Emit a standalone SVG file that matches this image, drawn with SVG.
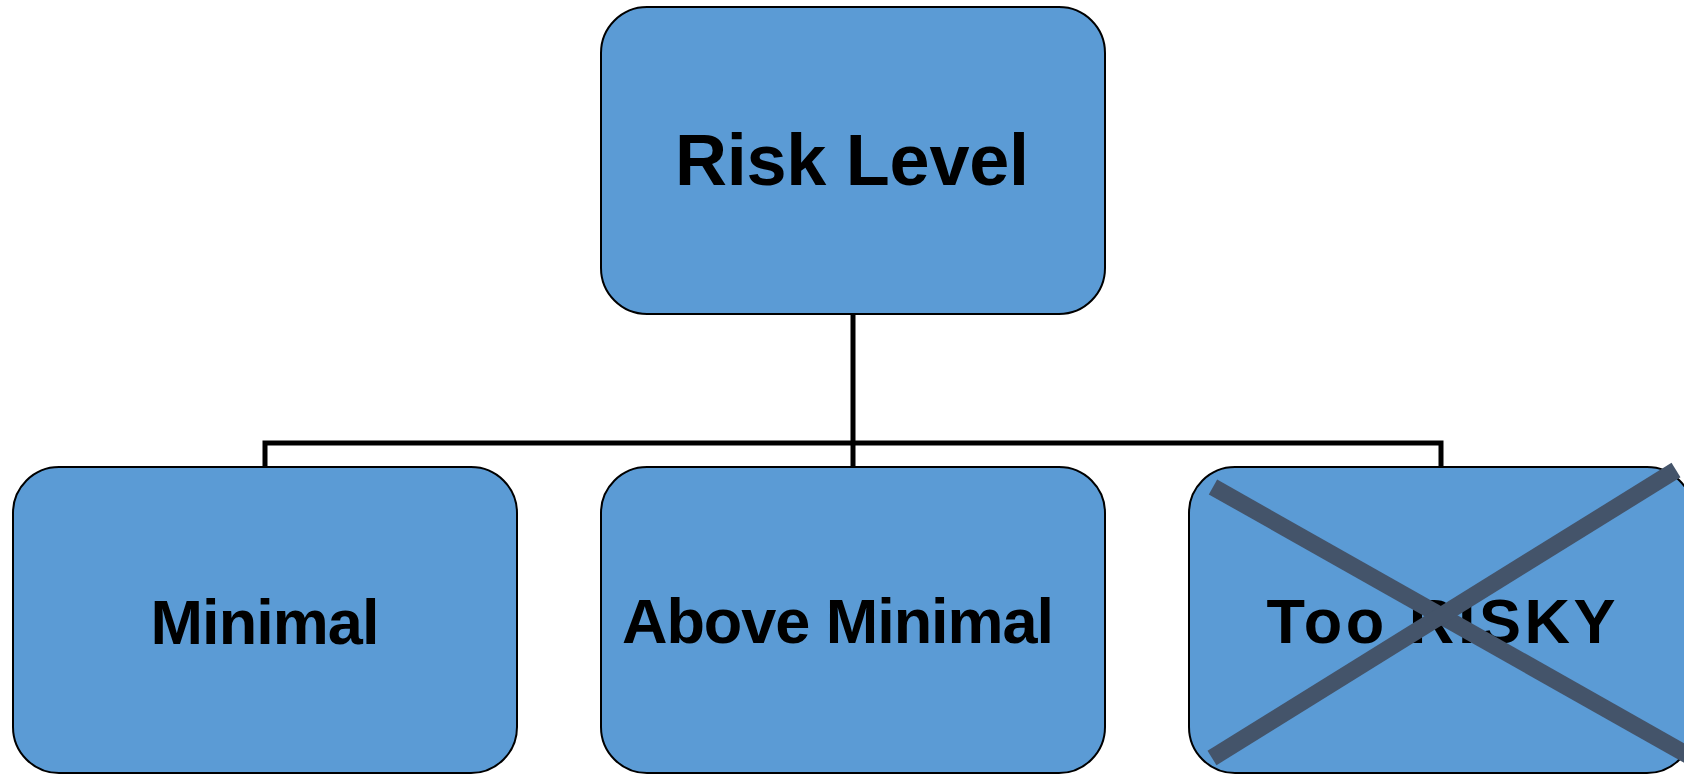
<svg xmlns="http://www.w3.org/2000/svg" width="1684" height="774" viewBox="0 0 1684 774">
  <style>
    .box { fill: #5B9BD5; stroke: #000000; stroke-width: 2; }
    .lbl { font-family: "Liberation Sans", Arial, sans-serif; font-weight: bold; fill: #000000; text-anchor: middle; }
    .conn { fill: none; stroke: #000000; stroke-width: 5; stroke-linejoin: miter; }
    .cross { stroke: #44546A; stroke-width: 17; stroke-linecap: butt; }
  </style>
  <rect width="1684" height="774" fill="#FFFFFF"/>
  <g id="connectors">
    <path class="conn" d="M853,314 V443"/>
    <path class="conn" d="M265,467 V443 H1441 V467"/>
    <path class="conn" d="M853,443 V467"/>
  </g>
  <g id="node-risk-level">
    <rect class="box" x="601" y="7" width="504" height="307" rx="46" ry="46"/>
    <text class="lbl" x="852" y="185" font-size="72" textLength="354" lengthAdjust="spacing">Risk Level</text>
  </g>
  <g id="node-minimal">
    <rect class="box" x="13" y="467" width="504" height="306" rx="46" ry="46"/>
    <text class="lbl" x="265" y="644" font-size="63" textLength="229" lengthAdjust="spacing">Minimal</text>
  </g>
  <g id="node-above-minimal">
    <rect class="box" x="601" y="467" width="504" height="306" rx="46" ry="46"/>
    <text class="lbl" x="838" y="643" font-size="63" textLength="432" lengthAdjust="spacing">Above Minimal</text>
  </g>
  <g id="node-too-risky">
    <rect class="box" x="1189" y="467" width="504" height="306" rx="46" ry="46"/>
    <text class="lbl" x="1441" y="643" font-size="63" textLength="349" lengthAdjust="spacing">Too RISKY</text>
    <line class="cross" x1="1213" y1="487" x2="1700" y2="762"/>
    <line class="cross" x1="1212" y1="758" x2="1676" y2="470"/>
  </g>
</svg>
